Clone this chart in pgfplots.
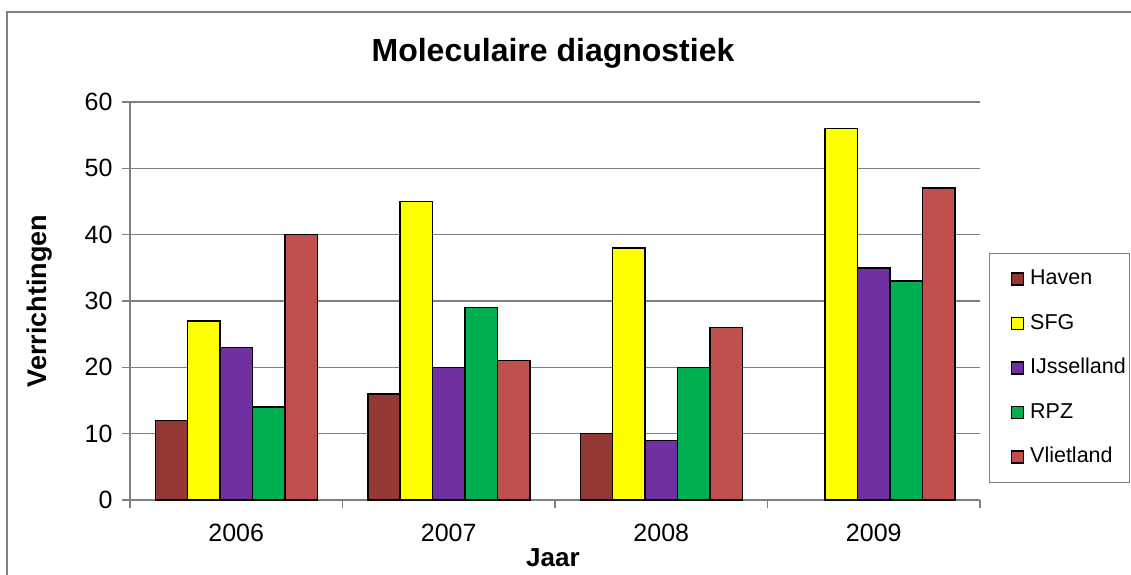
\documentclass[border=0pt]{standalone}
\usepackage{pgfplots}
\pgfplotsset{compat=1.18}
\usepackage{fontspec}
\setmainfont{Liberation Sans}
\definecolor{cHaven}{HTML}{953735}
\definecolor{cSFG}{HTML}{FFFF00}
\definecolor{cIJ}{HTML}{7030A0}
\definecolor{cRPZ}{HTML}{00B050}
\definecolor{cVliet}{HTML}{C0504D}
\definecolor{frame}{HTML}{808080}
\begin{document}
\begin{tikzpicture}
\useasboundingbox (0pt,0pt) rectangle (1131pt,-574pt);
\draw[frame, line width=1.5pt] (7pt,-590pt) -- (7pt,-12pt) -- (1145pt,-12pt);
\begin{axis}[
  scale only axis, width=850pt, height=398pt,
  anchor=south west, at={(130pt,-500pt)},
  xmin=-0.5, xmax=3.5, ymin=0, ymax=60,
  ybar=0pt, bar width=32.4pt,
  axis x line*=bottom, axis y line*=left,
  axis line style={frame, line width=1.3pt},
  xtick={0,1,2,3}, xticklabels={2006,2007,2008,2009},
  major x tick style={draw=none},
  minor xtick={-0.5,0.5,1.5,2.5,3.5},
  minor x tick style={frame, line width=1.3pt},
  minor tick length=8pt,
  ytick={0,10,...,60},
  major y tick style={frame, line width=1.3pt},
  major tick length=8pt,
  tick align=outside,
  ymajorgrids, grid style={frame, line width=1.3pt},
  /pgf/number format/assume math mode=true,
  tick label style={font=\fontsize{25}{30}\selectfont},
  xticklabel style={yshift=-12pt},
  yticklabel style={xshift=-6pt},
  xlabel={\textbf{Jaar}},
  xlabel style={font=\fontsize{26}{30}\selectfont, at={(axis description cs:0.4976,-0.1457)}, anchor=center},
  ylabel={\textbf{Verrichtingen}},
  ylabel style={font=\fontsize{27}{30}\selectfont, at={(axis description cs:-0.1059,0.5)}, anchor=center},
  legend style={at={(axis description cs:1.0106,0.6206)}, anchor=north west,
    draw=frame, line width=1.3pt, fill=white,
    font=\fontsize{21.5}{24}\selectfont,
    inner xsep=2pt, inner ysep=16pt, row sep=25.5pt,
    nodes={text height=15pt, text depth=4pt, inner sep=0pt, inner xsep=2pt}},
  legend cell align=left,
  legend image code/.code={\path (0pt,0pt) (35pt,0pt); \draw[#1, line width=1.5pt, draw=black] (19pt,-6pt) rectangle (31pt,6pt);},
  every axis plot/.append style={draw=black, line width=1.5pt},
]
\addplot[fill=cHaven] coordinates {(0,12) (1,16) (2,10)};
\addplot[fill=cSFG] coordinates {(0,27) (1,45) (2,38) (3,56)};
\addplot[fill=cIJ] coordinates {(0,23) (1,20) (2,9) (3,35)};
\addplot[fill=cRPZ] coordinates {(0,14) (1,29) (2,20) (3,33)};
\addplot[fill=cVliet] coordinates {(0,40) (1,21) (2,26) (3,47)};
\legend{Haven,SFG,IJsselland,RPZ,Vlietland}
\end{axis}
\node[font=\fontsize{32}{36}\selectfont\bfseries] at (553pt,-53pt) {Moleculaire diagnostiek};
\end{tikzpicture}
\end{document}
